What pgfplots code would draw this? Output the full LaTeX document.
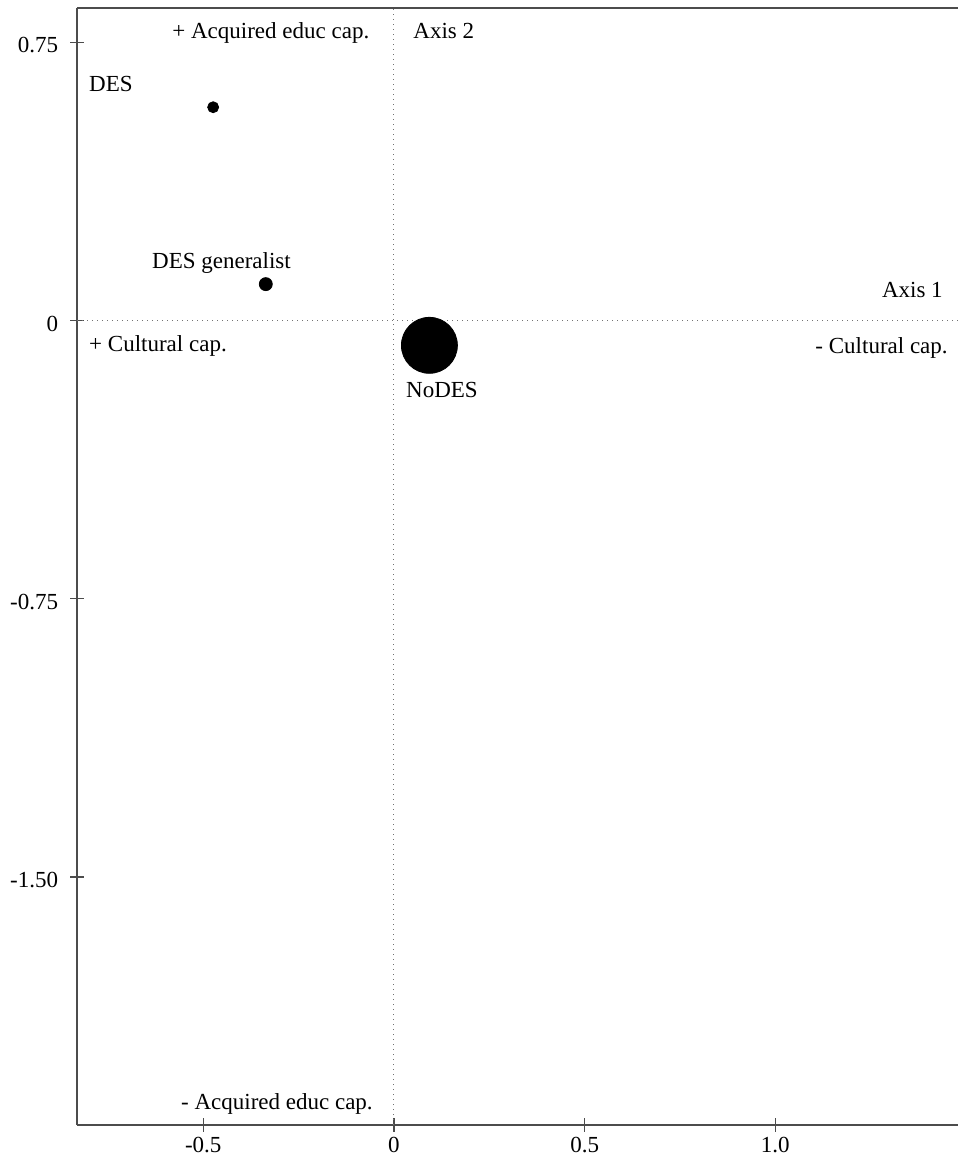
\documentclass[border=0pt]{standalone}
\usepackage{fontspec}
\setmainfont{Liberation Serif}
\usepackage{pgfplots}
\pgfplotsset{compat=1.18}
\begin{document}
\begin{tikzpicture}[font=\fontsize{11.5}{13.5}\selectfont]
\path[use as bounding box] (0,0) rectangle (479pt,579pt);
\begin{axis}[
  at={(38.5pt,16.5pt)}, anchor=south west,
  scale only axis, width=440.5pt, height=558.5pt,
  xmin=-0.831, xmax=1.479, ymin=-2.169, ymax=0.8425,
  axis x line*=bottom, axis y line*=left,
  xtick={-0.5,0,0.5,1}, xticklabels={-0.5,0,0.5,1.0},
  ytick={-1.5,-0.75,0,0.75}, yticklabels={-1.50,-0.75,0,0.75},
  tick align=center, major tick length=6.5pt,
  axis line style={draw=black!70, line width=0.9pt},
  tick style={draw=black!70, line width=0.7pt},
  yticklabel style={anchor=east, inner sep=0pt, xshift=-6pt, yshift=-1.5pt},
  xticklabel style={anchor=north, inner sep=0pt, yshift=-2.5pt},
  /pgf/number format/assume math mode=true,
  clip=false,
]
\draw[black!70, line width=0.9pt] (rel axis cs:0,1) -- (rel axis cs:1,1);
\draw[black!55, dotted, line width=0.5pt] (axis cs:0,-2.169) -- (axis cs:0,0.8425);
\draw[black!55, dotted, line width=0.5pt] (axis cs:-0.831,0) -- (axis cs:1.479,0);

\addplot[only marks, mark=*, mark size=2.75pt, black] coordinates {(-0.474,0.575)};
\addplot[only marks, mark=*, mark size=3.25pt, black] coordinates {(-0.336,0.098)};
\addplot[only marks, mark=*, mark size=14pt, black] coordinates {(0.093,-0.067)};

\node[anchor=base west, inner sep=0pt] at (axis cs:-0.582,0.760) {+ Acquired educ cap.};
\node[anchor=base west, inner sep=0pt] at (axis cs:0.050,0.760) {Axis 2};
\node[anchor=base west, inner sep=0pt] at (axis cs:-0.800,0.617) {DES};
\node[anchor=base west, inner sep=0pt] at (axis cs:-0.635,0.139) {DES generalist};
\node[anchor=base west, inner sep=0pt] at (axis cs:-0.800,-0.084) {+ Cultural cap.};
\node[anchor=base west, inner sep=0pt] at (axis cs:0.031,-0.208) {NoDES};
\node[anchor=base east, inner sep=0pt] at (axis cs:1.440,0.061) {Axis 1};
\node[anchor=base east, inner sep=0pt] at (axis cs:1.453,-0.090) {- Cultural cap.};
\node[anchor=base west, inner sep=0pt] at (axis cs:-0.559,-2.126) {- Acquired educ cap.};
\end{axis}
\end{tikzpicture}
\end{document}
